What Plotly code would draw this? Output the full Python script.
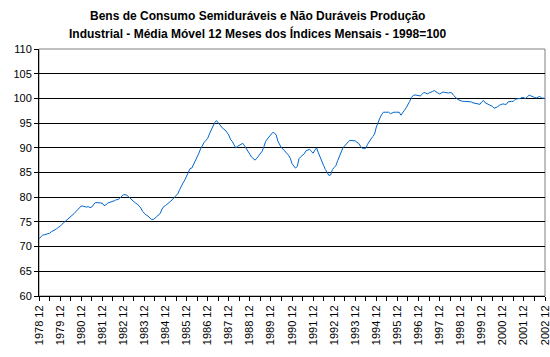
import plotly.graph_objects as go

years = list(range(1978, 2003))
tick_labels = [f"{y} 12" for y in years]

# Monthly values, Dec 1978 then Jan..Dec of each year
v1978 = [71.6]
v1979 = [71.9, 72.3, 72.4, 72.5, 72.6, 72.7, 73.0, 73.2, 73.3, 73.6, 73.9, 74.1]
v1980 = [74.5, 74.8, 75.1, 75.5, 75.8, 76.0, 76.4, 76.7, 77.1, 77.5, 77.8, 78.2]
v1981 = [78.2, 78.1, 78.0, 78.1, 77.9, 78.0, 78.6, 78.9, 78.9, 78.9, 78.9, 78.8]
v1982 = [78.3, 78.4, 78.8, 78.9, 79.1, 79.2, 79.3, 79.5, 79.5, 79.8, 80.2, 80.5]
v1983 = [80.5, 80.4, 80.1, 79.7, 79.4, 79.1, 78.8, 78.6, 78.2, 77.8, 77.1, 76.7]
v1984 = [76.4, 76.2, 75.8, 75.5, 75.5, 75.7, 76.1, 76.4, 76.7, 77.6, 78.1, 78.3]
v1985 = [78.7, 78.9, 79.2, 79.6, 79.9, 80.3, 80.7, 81.5, 82.3, 82.9, 83.5, 84.2]
v1986 = [85.2, 85.8, 85.9, 86.6, 87.4, 88.2, 88.9, 89.8, 90.6, 91.1, 91.5, 91.9]
v1987 = [92.8, 93.7, 94.4, 95.1, 95.5, 95.0, 94.6, 94.2, 93.8, 93.6, 93.1, 92.6]
v1988 = [91.7, 91.3, 90.6, 90.0, 90.3, 90.5, 90.8, 90.9, 90.4, 89.9, 89.2, 88.7]
v1989 = [88.1, 87.7, 87.5, 87.9, 88.3, 88.7, 89.3, 90.2, 91.3, 91.8, 92.3, 92.6]
v1990 = [93.1, 93.0, 92.6, 91.3, 90.6, 90.0, 89.7, 89.2, 88.9, 88.5, 87.9, 86.8]
v1991 = [86.2, 85.9, 86.2, 87.8, 88.2, 88.5, 88.8, 89.4, 89.6, 89.7, 89.3, 88.9]
v1992 = [89.5, 90.0, 89.0, 88.0, 87.2, 86.4, 85.6, 84.9, 84.4, 84.5, 85.6, 86.0]
v1993 = [86.4, 87.4, 88.4, 89.2, 90.0, 90.4, 90.9, 91.2, 91.5, 91.5, 91.4, 91.4]
v1994 = [91.1, 90.9, 90.3, 89.9, 89.9, 89.9, 90.7, 91.4, 91.8, 92.3, 92.8, 94.2]
v1995 = [95.2, 96.0, 96.7, 97.2, 97.2, 97.2, 97.2, 96.9, 97.1, 97.2, 97.2, 97.2]
v1996 = [97.2, 96.6, 97.0, 97.6, 98.1, 98.7, 99.4, 100.2, 100.6, 100.7, 100.6, 100.6]
v1997 = [100.5, 100.8, 101.2, 101.1, 100.9, 101.1, 101.2, 101.4, 101.6, 101.3, 101.1, 100.9]
v1998 = [101.1, 101.3, 101.2, 101.1, 101.1, 101.2, 101.1, 100.6, 100.2, 99.9, 99.7, 99.5]
v1999 = [99.4, 99.4, 99.4, 99.4, 99.4, 99.3, 99.1, 99.0, 98.9, 98.9, 98.8, 99.3]
v2000 = [99.6, 99.1, 98.9, 98.7, 98.6, 98.4, 98.0, 98.1, 98.3, 98.6, 98.8, 98.9]
v2001 = [98.8, 98.8, 99.3, 99.4, 99.4, 99.4, 99.8, 99.9, 99.9, 100.0, 100.2, 100.1]
v2002 = [100.0, 100.3, 100.7, 100.5, 100.3, 100.2, 100.1, 100.3, 100.4, 100.1, 100.0, 100.0]

values = (v1978 + v1979 + v1980 + v1981 + v1982 + v1983 + v1984 + v1985 + v1986
          + v1987 + v1988 + v1989 + v1990 + v1991 + v1992 + v1993 + v1994 + v1995
          + v1996 + v1997 + v1998 + v1999 + v2000 + v2001 + v2002)
x_idx = list(range(len(values)))

fig = go.Figure()
fig.add_trace(go.Scatter(x=x_idx, y=values, mode="lines",
                         line=dict(color="#0066CC", width=1), hoverinfo="skip"))

font_family = "Liberation Sans, Arial, sans-serif"

fig.update_layout(
    width=550, height=357,
    margin=dict(l=39, r=5, t=49, b=61),
    paper_bgcolor="white", plot_bgcolor="white",
    showlegend=False,
    font=dict(family=font_family, size=11, color="black"),
    annotations=[
        dict(text="<b>Bens de Consumo Semiduráveis e Não Duráveis Produção</b>",
             xref="paper", yref="paper", x=(257 - 39) / 506, y=1 + (49 - 16) / 247,
             xanchor="center", yanchor="middle", showarrow=False,
             font=dict(size=12, family=font_family, color="black")),
        dict(text="<b>Industrial - Média Móvel 12 Meses dos Índices Mensais - 1998=100</b>",
             xref="paper", yref="paper", x=(257 - 39) / 506, y=1 + (49 - 33) / 247,
             xanchor="center", yanchor="middle", showarrow=False,
             font=dict(size=12, family=font_family, color="black")),
    ],
    shapes=[
        dict(type="rect", xref="paper", yref="paper", x0=0, x1=1, y0=0, y1=1,
             line=dict(color="#808080", width=1), layer="below"),
    ],
)

fig.update_xaxes(
    range=[0, len(values) - 1],
    tickmode="array",
    tickvals=[12 * i for i in range(len(years))],
    ticktext=tick_labels,
    tickangle=-90,
    ticks="outside", ticklen=4, tickcolor="black",
    showline=True, linecolor="black", linewidth=1,
    showgrid=False, zeroline=False,
    minor=dict(dtick=6, tick0=0, ticks="outside", ticklen=4, tickcolor="black", showgrid=False),
    tickfont=dict(size=11),
    automargin=False,
    ticklabeloverflow="allow",
)
fig.update_yaxes(
    range=[60, 110], dtick=5, tick0=60,
    ticks="outside", ticklen=4, tickcolor="black",
    showline=True, linecolor="black", linewidth=1,
    showgrid=True, gridcolor="black", gridwidth=1,
    zeroline=False,
    tickfont=dict(size=11),
    automargin=False,
)

fig.write_html("out.html", config={"displayModeBar": False, "staticPlot": True},
               post_script="document.body.style.margin='0';")
